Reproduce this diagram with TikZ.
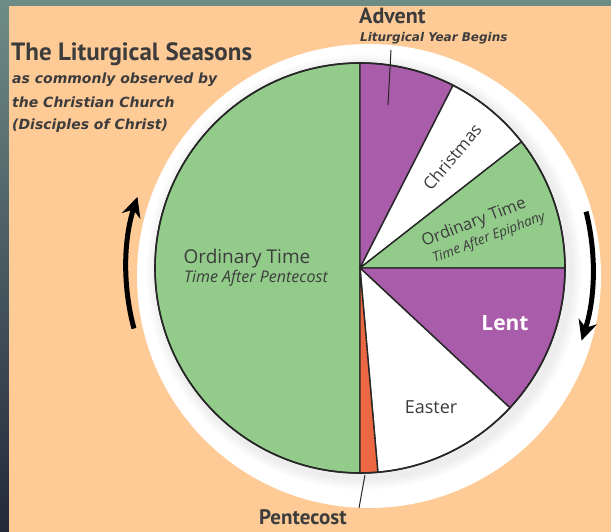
\documentclass[tikz,border=0pt]{standalone}
\usepackage{fontspec}
\setmainfont{Open Sans}
\newfontfamily\headfont{PT Sans}
\newfontfamily\notefont{DejaVu Sans}
\usepackage{xcolor}
\usetikzlibrary{arrows.meta, positioning}
\definecolor{peach}{HTML}{FECA96}
\definecolor{frametop}{HTML}{6E8C86}
\definecolor{framebot}{HTML}{23283A}
\definecolor{ordgreen}{HTML}{93CB8B}
\definecolor{advpurple}{HTML}{A95CA9}
\definecolor{pentred}{HTML}{EC6842}
\definecolor{edge}{HTML}{262626}
\definecolor{txt}{HTML}{3C3C3C}
\tikzset{every node/.style={align=center}}

\begin{document}
\begin{tikzpicture}[x=1pt, y=1pt,
    slice/.style={draw=edge, line width=1.4pt, line join=round},
    season/.style={font=\fontsize{17}{19}\selectfont, text=txt, inner sep=0pt},
    sub/.style={font=\fontsize{13.5}{15}\selectfont\itshape, text=txt, inner sep=0pt},
    lbl/.style={font=\headfont\fontsize{22}{24}\selectfont\bfseries, text=txt, inner sep=0pt, anchor=base west},
    note/.style={font=\notefont\fontsize{14}{16}\selectfont\bfseries\itshape, text=txt, inner sep=0pt, anchor=base west},
    turn/.style={line width=5pt, -{Stealth[length=20pt,width=19pt]}},
    leader/.style={line width=1pt, draw=edge}
]
  \useasboundingbox (0,0) rectangle (611,532);
  % frame and paper
  \shade[top color=frametop, bottom color=framebot] (0,0) rectangle (611,532);
  \fill[peach] (9,0) rectangle (611,526);

  % white ring with soft shadow
  \fill[white] (369,256) circle[radius=232];
  \foreach \i in {0,...,7}
      \fill[black!\i!white] (364,260) circle[radius=219-1.5*\i];

  % the wheel
  \begin{scope}[shift={(360,264)}]
    \filldraw[slice, fill=ordgreen]  (0,0) -- (90:205)  arc[start angle=90,  end angle=270, radius=205] -- cycle;
    \filldraw[slice, fill=advpurple] (0,0) -- (63:205)  arc[start angle=63,  end angle=90,  radius=205] -- cycle;
    \filldraw[slice, fill=white]     (0,0) -- (38:205)  arc[start angle=38,  end angle=63,  radius=205] -- cycle;
    \filldraw[slice, fill=ordgreen]  (0,0) -- (0:205)   arc[start angle=0,   end angle=38,  radius=205] -- cycle;
    \filldraw[slice, fill=advpurple] (0,0) -- (-43:205) arc[start angle=-43, end angle=0,   radius=205] -- cycle;
    \filldraw[slice, fill=white]     (0,0) -- (-85:205) arc[start angle=-85, end angle=-43, radius=205] -- cycle;
    \filldraw[slice, fill=pentred]   (0,0) -- (-90:205) arc[start angle=-90, end angle=-85, radius=205] -- cycle;
    \draw[edge, line width=1.6pt] (0,0) circle[radius=205];

    % direction of the year
    \coordinate (leftfrom)  at (195:234);
    \coordinate (rightfrom) at (14:233);
  \end{scope}
  \draw[turn] (leftfrom)  arc[start angle=195, end angle=162, radius=232];
  \draw[turn] (rightfrom) arc[start angle=14,  end angle=-18, radius=234];

  % seasons
  \node[season, font=\fontsize{19}{21}\selectfont] (ordpent) at (247,264) {Ordinary Time\\[-2pt]{\itshape\fontsize{16}{18}\selectfont\hspace*{18pt}Time After Pentecost}};
  \node[season, rotate=50] (christmas) at (452,375) {Christmas};
  \node[season, rotate=21, font=\fontsize{16.5}{18}\selectfont] (ordepi) at (474,309) {Ordinary Time};
  \node[sub, rotate=21] (epi) at (489,294) {Time After Epiphany};
  \node[season, font=\fontsize{21}{23}\selectfont\bfseries, text=white] (lent) at (505,209) {Lent};
  \node[season, font=\fontsize{18}{20}\selectfont] (easter) at (431,125) {Easter};

  % labels outside the wheel
  \node[lbl] (advent) at (359,508) {Advent};
  \node[note, font=\notefont\fontsize{12}{14}\selectfont\bfseries\itshape] (adventsub) at (360,490) {Liturgical Year Begins};
  \coordinate (adventtop) at (391,482);
  \coordinate (adventtip) at (388,427);
  \draw[leader] (adventtop) -- (adventtip);

  \node[lbl, font=\headfont\fontsize{21}{23}\selectfont\bfseries] (pentecost) at (259,7) {Pentecost};
  \coordinate (pentbot) at (359,24);
  \coordinate (penttip) at (365,57);
  \draw[leader] (pentbot) -- (penttip);

  % title block
  \node[lbl, font=\headfont\fontsize{25}{27}\selectfont\bfseries] (title) at (11,471) {The Liturgical Seasons};
  \node[note] (obs)    at (12,448) {as commonly observed by};
  \node[note] (church) at (12,424) {the Christian Church};
  \node[note] (disc)   at (12,402) {(Disciples of Christ)};
\end{tikzpicture}
\end{document}
